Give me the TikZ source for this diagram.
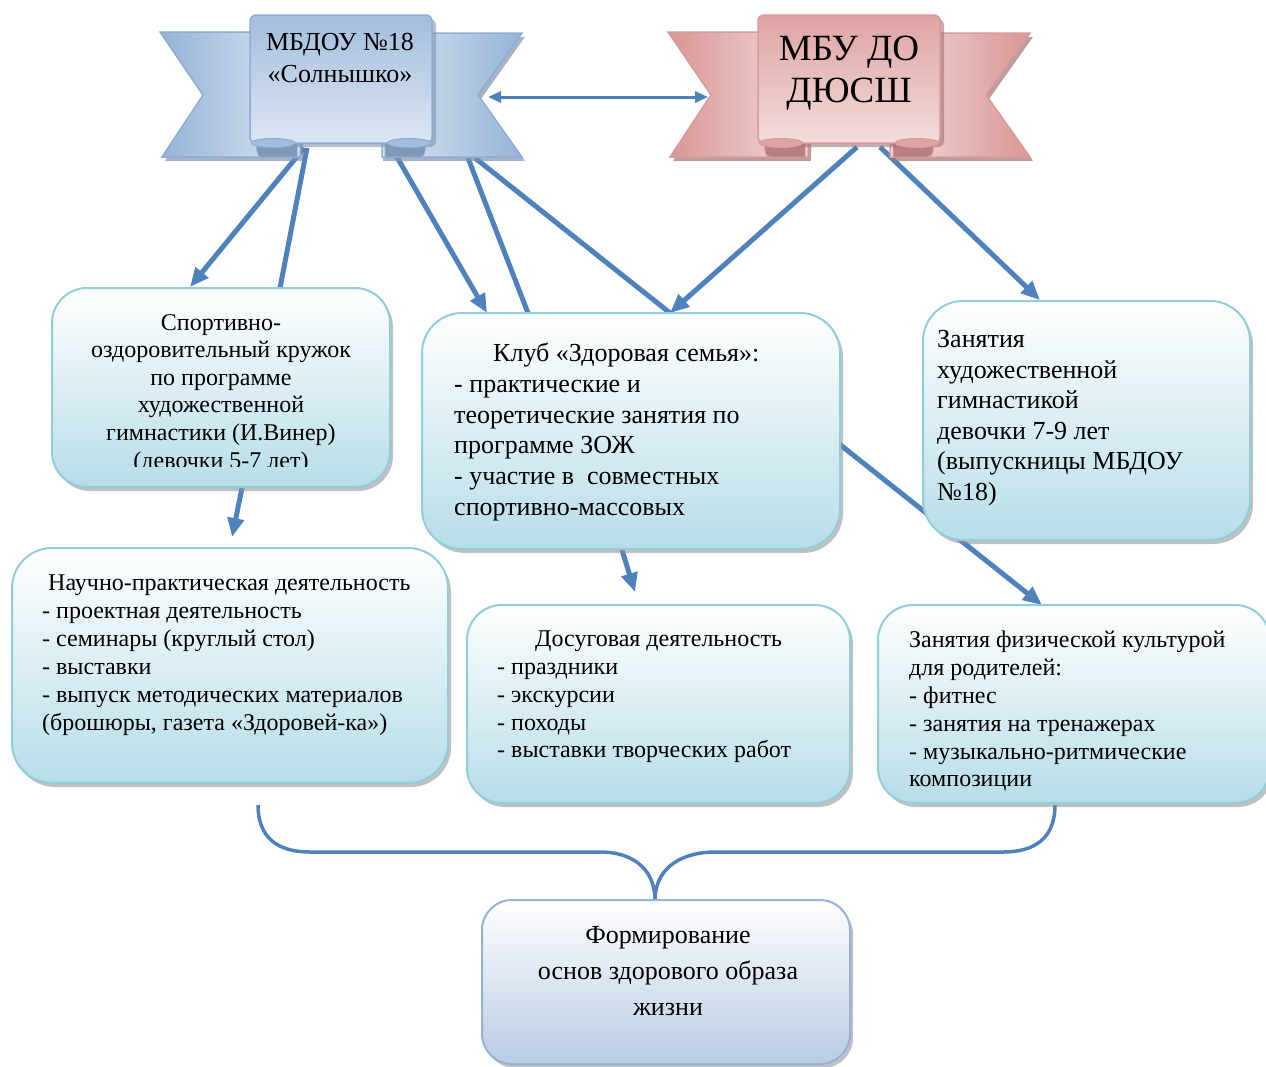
\documentclass[tikz,border=0pt]{standalone}
\usepackage{fontspec}
\setmainfont{Liberation Serif}
\usetikzlibrary{arrows.meta,shadows}
\definecolor{arrc}{HTML}{4F81BD}
\definecolor{bxborder}{HTML}{92CDDC}
\definecolor{bxbottom}{HTML}{B7DDE8}
\definecolor{gbottom}{HTML}{B8CCE4}
\definecolor{gborder}{HTML}{95B3D7}
\definecolor{bdark}{HTML}{95B3D7}
\definecolor{blight}{HTML}{DCE6F2}
\definecolor{bborder}{HTML}{8DADD6}
\definecolor{bshadow}{HTML}{7F93AC}
\definecolor{rdark}{HTML}{D99694}
\definecolor{rlight}{HTML}{F2DCDB}
\definecolor{rborder}{HTML}{DA9A99}
\definecolor{rshadow}{HTML}{A07474}
\newcommand\myfs[2]{\fontsize{#1}{#2}\selectfont}
\newcommand\myribbon[5]{%
\begin{scope}[xshift=#1]
  % shadows
  \fill[#5,opacity=.7] (163,36) -- (303,36) -- (303,161) -- (165,161) -- (206,99) -- cycle;
  \fill[#5,opacity=.7] (525,37) -- (383,37) -- (383,161) -- (525,161) -- (481,99) -- cycle;
  % wings
  \draw[#4,line width=1.5pt,left color=#2,right color=#3] (160,32) -- (300,32) -- (300,157) -- (162,157) -- (203,95) -- cycle;
  \draw[#4,line width=1.5pt,left color=#3,right color=#2] (522,33) -- (382,33) -- (382,157) -- (522,157) -- (478,95) -- cycle;
  % folds
  \filldraw[#4,line width=1pt,fill=#2!85!black] (262,139) -- (297,139) -- (297,157) -- (262,157) to[out=180,in=180] (262,139);
  \filldraw[#4,line width=1pt,fill=#2!85!black] (420,139) -- (385,139) -- (385,157) -- (420,157) to[out=0,in=0] (420,139);
  % panel shadow
  \fill[#5,opacity=.6,rounded corners=6pt] (253,19) rectangle (436,147);
  % panel
  \draw[#4,line width=1.5pt,rounded corners=6pt,top color=#2!80!#3,bottom color=#3] (250,15) rectangle (432,143);
  \filldraw[#4,line width=1pt,fill=#2!80!#3] (273,143) ellipse (22 and 4.5);
  \filldraw[#4,line width=1pt,fill=#2!80!#3] (409,143) ellipse (22 and 4.5);
\end{scope}}
\tikzset{
  box/.style={draw=bxborder,line width=2pt,top color=white,bottom color=bxbottom,
    drop shadow={shadow xshift=3pt,shadow yshift=-4pt,fill=black!45,opacity=.55}},
  tl/.style={inner sep=0pt,anchor=north west,align=left,text=black},
  tcn/.style={inner sep=0pt,anchor=north,align=center,text=black},
  arr/.style={draw=arrc,line width=5pt,-{Triangle[length=19pt,width=16pt]}},
  ln/.style={draw=arrc,line width=5pt},
  dbl/.style={draw=arrc,line width=3pt,{Triangle[length=13pt,width=11pt]}-{Triangle[length=13pt,width=11pt]}},
  brace/.style={draw=arrc,line width=3.5pt},
}
\begin{document}
\begin{tikzpicture}[x=1pt,y=-1pt]
\useasboundingbox (0,0) rectangle (1266,1066);
% coordinates for connectors
\coordinate (s1) at (304,148);
\coordinate (e1) at (190,287);
\coordinate (s2) at (307,148);
\coordinate (e2) at (280,288);
\coordinate (s3) at (390,145);
\coordinate (e3) at (487,313);
\coordinate (s4) at (468,158);
\coordinate (e4) at (528,313);
\coordinate (s5) at (475,158);
\coordinate (e5) at (670,313);
\coordinate (s6) at (857,147);
\coordinate (s7) at (880,147);
\coordinate (e7) at (1040,300);
\coordinate (s8) at (242,488);
\coordinate (e8) at (232,537);
\coordinate (s9) at (622,550);
\coordinate (e9) at (635,592);
\coordinate (s10) at (838,443);
\coordinate (e10) at (1042,605);
\coordinate (dl) at (488,97);
\coordinate (dr) at (708,97);
\coordinate (bl) at (258,805);
\coordinate (br) at (1055,805);
\coordinate (bt) at (655,900);
% connectors
\draw[arr] (s1) -- (e1);
\draw[ln] (s2) -- (e2);
\draw[arr] (s3) -- (e3);
\draw[ln] (s4) -- (e4);
\draw[ln] (s5) -- (e5);
\draw[arr] (s6) -- (e5);
\draw[arr] (s7) -- (e7);
\draw[arr] (s8) -- (e8);
\draw[arr] (s9) -- (e9);
\draw[arr] (s10) -- (e10);
\draw[brace] (bl) .. controls (258,838) and (278,852) .. (310,852) -- (600,852) .. controls (636,852) and (655,872) .. (bt);
\draw[brace] (br) .. controls (1055,838) and (1035,852) .. (1003,852) -- (716,852) .. controls (676,852) and (655,872) .. (bt);
% boxes
\node[box,rounded corners=35pt,minimum width=338pt,minimum height=199pt] (bA) at (221,387.5) {};
\node[box,rounded corners=40pt,minimum width=418pt,minimum height=236pt] (bB) at (631,431) {};
\node[box,rounded corners=40pt,minimum width=327pt,minimum height=239pt] (bC) at (1086.5,420.5) {};
\node[box,rounded corners=40pt,minimum width=436pt,minimum height=235pt] (bD) at (230,665.5) {};
\node[box,rounded corners=35pt,minimum width=383pt,minimum height=198pt] (bE) at (658.5,704) {};
\node[box,rounded corners=35pt,minimum width=392pt,minimum height=198pt] (bF) at (1074,704) {};
\node[box,draw=gborder,bottom color=gbottom,rounded corners=30pt,minimum width=368pt,minimum height=164pt] (bG) at (666,982) {};
% texts
\begin{scope}
\clip (52,288) rectangle (390,466);
\node[tcn,font=\myfs{24}{27.6}] (tA) at (221,314) {Спортивно-\\оздоровительный кружок\\по программе\\художественной\\гимнастики (И.Винер)\\(девочки 5-7 лет)};
\end{scope}
\node[tl,font=\myfs{26}{30.7}] (tB) at (454,343) {\hspace*{39pt}Клуб «Здоровая семья»:\\- практические и\\теоретические занятия по\\программе ЗОЖ\\- участие в\ \ совместных\\спортивно-массовых};
\node[tl,font=\myfs{26}{30.6}] (tC) at (937,330) {Занятия\\художественной\\гимнастикой\\девочки 7-9 лет\\(выпускницы МБДОУ\\№18)};
\node[tl,font=\myfs{24}{28}] (tD) at (42,575) {\hspace*{6pt}Научно-практическая деятельность\\- проектная деятельность\\- семинары (круглый стол)\\- выставки\\- выпуск методических материалов\\(брошюры, газета «Здоровей-ка»)};
\node[tl,font=\myfs{24}{27.7}] (tE) at (497,631) {\hspace*{38pt}Досуговая деятельность\\- праздники\\- экскурсии\\- походы\\- выставки творческих работ};
\node[tl,font=\myfs{24}{27.8}] (tF) at (909,631) {Занятия физической культурой\\для родителей:\\- фитнес\\- занятия на тренажерах\\- музыкально-ритмические\\композиции};
\node[tcn,font=\myfs{26}{36}] (tG) at (668,926) {Формирование\\основ здорового образа\\жизни};
% ribbons
\myribbon{0pt}{bdark}{blight}{bborder}{bshadow}
\myribbon{508pt}{rdark}{rlight}{rborder}{rshadow}
\node[tcn,font=\myfs{26}{32}] (mb) at (340,33) {МБДОУ №18\\«Солнышко»};
\node[tcn,font=\myfs{37}{42}] (dus) at (849,36) {МБУ ДО\\ДЮСШ};
% double arrow between the ribbons
\draw[dbl] (dl) -- (dr);
\end{tikzpicture}
\end{document}
